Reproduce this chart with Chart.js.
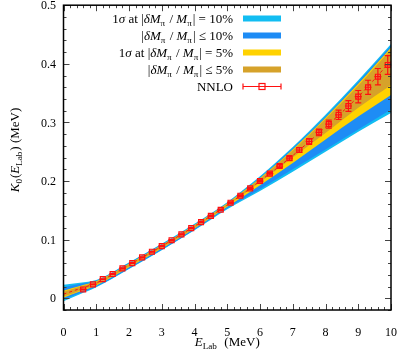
<!DOCTYPE html>
<html>
<head>
<meta charset="utf-8">
<script src="https://cdn.jsdelivr.net/npm/chart.js@4/dist/chart.umd.min.js"></script>
<style>
  html, body { margin: 0; padding: 0; background: #fff; }
  #wrap { width: 399px; height: 351px; }
</style>
</head>
<body>
<div id="wrap"><canvas id="chart" width="399" height="351"></canvas></div>
<script>
// band grid (MeV)
const bandE = [0, 0.5, 1, 2, 3, 4, 5, 6, 7, 8, 9, 10];
// central NNLO curve (dashed)
const central = [0.007, 0.0165, 0.026, 0.057, 0.089, 0.123, 0.159, 0.200, 0.2435, 0.292, 0.344, 0.405];
// 1 sigma at |dM/M| = 10%
const lightTop = [0.023, 0.0265, 0.031, 0.061, 0.093, 0.127, 0.164, 0.208, 0.258, 0.313, 0.372, 0.434];
const lightBot = [-0.005, 0.007, 0.019, 0.050, 0.082, 0.116, 0.152, 0.183, 0.216, 0.250, 0.284, 0.316];
// |dM/M| <= 10%
const blueTop = [0.019, 0.0245, 0.030, 0.060, 0.092, 0.126, 0.163, 0.206, 0.256, 0.310, 0.369, 0.431];
const blueBot = [-0.002, 0.009, 0.020, 0.051, 0.083, 0.117, 0.154, 0.186, 0.220, 0.254, 0.288, 0.322];
// 1 sigma at |dM/M| = 5%
const goldTop = [0.013, 0.021, 0.029, 0.059, 0.091, 0.125, 0.162, 0.205, 0.254, 0.308, 0.366, 0.428];
const goldBot = [0.001, 0.0115, 0.022, 0.053, 0.085, 0.119, 0.156, 0.193, 0.231, 0.271, 0.310, 0.347];
// |dM/M| <= 5%
const rodTop = [0.011, 0.0195, 0.028, 0.058, 0.090, 0.124, 0.161, 0.204, 0.252, 0.306, 0.363, 0.425];
const rodBot = [0.003, 0.013, 0.023, 0.054, 0.086, 0.120, 0.158, 0.198, 0.240, 0.282, 0.325, 0.364];

// NNLO points
const nnloE = [0.6, 0.9, 1.2, 1.5, 1.8, 2.1, 2.4, 2.7, 3.0, 3.3, 3.6, 3.9, 4.2, 4.5, 4.8, 5.1,
  5.4, 5.7, 6.0, 6.3, 6.6, 6.9, 7.2, 7.5, 7.8, 8.1, 8.4, 8.7, 9.0, 9.3, 9.6, 9.9];
const nnloK = [0.0150, 0.0236, 0.0327, 0.0414, 0.0510, 0.0600, 0.0697, 0.0794, 0.0890, 0.0990,
  0.1090, 0.1196, 0.1300, 0.1405, 0.1510, 0.1630, 0.1750, 0.1876, 0.2000, 0.2126, 0.2256,
  0.2390, 0.2530, 0.2675, 0.2830, 0.2970, 0.3130, 0.3280, 0.3440, 0.3600, 0.3780, 0.3980];
const nnloErr = [0.0005, 0.0005, 0.0006, 0.0006, 0.0007, 0.0007, 0.0008, 0.0008, 0.0009, 0.0009,
  0.001, 0.001, 0.0011, 0.0012, 0.0013, 0.0014, 0.0015, 0.0017, 0.002, 0.0023, 0.0027,
  0.0032, 0.004, 0.0048, 0.0057, 0.0068, 0.008, 0.0092, 0.0105, 0.012, 0.014, 0.016];

const xTicks = [0, 1, 2, 3, 4, 5, 6, 7, 8, 9, 10];
const yTicks = [0, 0.1, 0.2, 0.3, 0.4, 0.5];

const C_LIGHT = "#12bdf2";
const C_BLUE = "#1e8cf5";
const C_GOLD = "#ffd200";
const C_ROD = "#d6a22a";
const C_RED = "#ff1010";
const SERIF = "'Liberation Serif', 'DejaVu Serif', serif";

function pts(xs, ys) {
  return xs.map((x, i) => ({ x: x, y: ys[i] }));
}

function band(data, color, fill, order) {
  return {
    data: pts(bandE, data),
    borderWidth: 0,
    borderColor: color,
    backgroundColor: color,
    pointRadius: 0,
    fill: fill,
    cubicInterpolationMode: "monotone",
    order: order
  };
}

// text pieces: {t, it, sub}
function richWidth(ctx, parts, size) {
  let w = 0;
  parts.forEach(p => {
    let s = p.sub ? size * 0.7 : size;
    ctx.font = (p.it ? "italic " : "") + s + "px " + SERIF;
    w += ctx.measureText(p.t).width + (p.sub ? 1 : 0);
  });
  return w;
}

function drawRich(ctx, parts, x, y, size) {
  parts.forEach(p => {
    let s = p.sub ? size * 0.7 : size;
    ctx.font = (p.it ? "italic " : "") + s + "px " + SERIF;
    ctx.fillText(p.t, x, p.sub ? y + size * 0.25 : y);
    x += ctx.measureText(p.t).width + (p.sub ? 1 : 0);
  });
}

const legendRows = [
  { parts: [{ t: "1" }, { t: "σ", it: true }, { t: " at |" }, { t: "δM", it: true }, { t: "π", sub: true },
    { t: " / " }, { t: "M", it: true }, { t: "π", sub: true }, { t: "| = 10%" }], color: C_LIGHT },
  { parts: [{ t: "|" }, { t: "δM", it: true }, { t: "π", sub: true }, { t: " / " }, { t: "M", it: true },
    { t: "π", sub: true }, { t: "| ≤ 10%" }], color: C_BLUE },
  { parts: [{ t: "1" }, { t: "σ", it: true }, { t: " at |" }, { t: "δM", it: true }, { t: "π", sub: true },
    { t: " / " }, { t: "M", it: true }, { t: "π", sub: true }, { t: "| = 5%" }], color: C_GOLD },
  { parts: [{ t: "|" }, { t: "δM", it: true }, { t: "π", sub: true }, { t: " / " }, { t: "M", it: true },
    { t: "π", sub: true }, { t: "| ≤ 5%" }], color: C_ROD },
  { parts: [{ t: "NNLO" }], color: null }
];

const decor = {
  id: "decor",
  afterDatasetsDraw(chart) {
    const ctx = chart.ctx;
    const xs = chart.scales.x, ys = chart.scales.y;
    // error bars
    ctx.save();
    ctx.strokeStyle = C_RED;
    ctx.lineWidth = 1.2;
    nnloE.forEach((e, i) => {
      let px = xs.getPixelForValue(e);
      let top = ys.getPixelForValue(nnloK[i] + nnloErr[i]);
      let bot = ys.getPixelForValue(nnloK[i] - nnloErr[i]);
      let py = ys.getPixelForValue(nnloK[i]);
      ctx.beginPath();
      ctx.moveTo(px, top); ctx.lineTo(px, bot);
      ctx.moveTo(px - 3, top); ctx.lineTo(px + 3, top);
      ctx.moveTo(px - 3, bot); ctx.lineTo(px + 3, bot);
      ctx.moveTo(px - 3.5, py); ctx.lineTo(px + 3.5, py);
      ctx.stroke();
    });
    ctx.restore();
  },
  afterDraw(chart) {
    const ctx = chart.ctx;
    const a = chart.chartArea;
    const xs = chart.scales.x, ys = chart.scales.y;
    ctx.save();
    // ticks, inward on all sides
    ctx.strokeStyle = "#444";
    ctx.lineWidth = 1;
    ctx.beginPath();
    for (let k = 0; k <= 50; k++) {
      let v = k * 0.2;
      let px = Math.round(xs.getPixelForValue(v)) + 0.5;
      let len = (k % 5 === 0) ? 6 : 3;
      ctx.moveTo(px, a.bottom); ctx.lineTo(px, a.bottom - len);
      ctx.moveTo(px, a.top); ctx.lineTo(px, a.top + len);
    }
    for (let k = -1; k <= 25; k++) {
      let v = k * 0.02;
      let py = Math.round(ys.getPixelForValue(v)) + 0.5;
      let len = (k % 5 === 0) ? 6 : 3;
      ctx.moveTo(a.left, py); ctx.lineTo(a.left + len, py);
      ctx.moveTo(a.right, py); ctx.lineTo(a.right - len, py);
    }
    ctx.stroke();
    // frame
    ctx.strokeStyle = "#000";
    ctx.lineWidth = 1.5;
    ctx.strokeRect(a.left, a.top, a.right - a.left, a.bottom - a.top);

    // tick labels
    ctx.fillStyle = "#000";
    ctx.font = "12px " + SERIF;
    ctx.textBaseline = "middle";
    ctx.textAlign = "center";
    xTicks.forEach(v => ctx.fillText(String(v), xs.getPixelForValue(v), 333));
    ctx.textAlign = "right";
    yTicks.forEach(v => ctx.fillText(String(v), 56, ys.getPixelForValue(v) + 1));
    ctx.textAlign = "left";

    // axis titles
    ctx.textBaseline = "alphabetic";
    const xt = [{ t: "E", it: true }, { t: "Lab", sub: true }, { t: "  (MeV)" }];
    let w = richWidth(ctx, xt, 13);
    drawRich(ctx, xt, (a.left + a.right) / 2 - w / 2, 346, 13);

    const yt = [{ t: "K", it: true }, { t: "0", sub: true }, { t: "(" }, { t: "E", it: true },
      { t: "Lab", sub: true }, { t: ") (MeV)" }];
    ctx.save();
    ctx.translate(19, 150);
    ctx.rotate(-Math.PI / 2);
    w = richWidth(ctx, yt, 13);
    drawRich(ctx, yt, -w / 2, 0, 13);
    ctx.restore();

    // legend
    const rowY = [18.5, 35.5, 52.5, 69.5, 86.5];
    const textRight = 233, sx0 = 243, sx1 = 281;
    legendRows.forEach((r, i) => {
      let y = rowY[i];
      let tw = richWidth(ctx, r.parts, 13);
      ctx.fillStyle = "#000";
      drawRich(ctx, r.parts, textRight - tw, y + 4.5, 13);
      if (r.color) {
        ctx.fillStyle = r.color;
        ctx.fillRect(sx0, y - 3, sx1 - sx0, 6);
      } else {
        ctx.strokeStyle = C_RED;
        ctx.lineWidth = 1.2;
        ctx.beginPath();
        ctx.moveTo(sx0, y); ctx.lineTo(sx1, y);
        ctx.moveTo(sx0, y - 3); ctx.lineTo(sx0, y + 3);
        ctx.moveTo(sx1, y - 3); ctx.lineTo(sx1, y + 3);
        ctx.stroke();
        ctx.strokeRect((sx0 + sx1) / 2 - 3, y - 3, 6, 6);
      }
    });
    ctx.restore();
  }
};

new Chart(document.getElementById("chart"), {
  type: "line",
  data: {
    datasets: [
      {
        data: pts(nnloE, nnloK),
        showLine: false,
        pointStyle: "rect",
        pointRadius: 3.5,
        pointBorderWidth: 1.2,
        borderColor: C_RED,
        backgroundColor: "rgba(255,120,120,0.35)",
        order: 0
      },
      {
        data: pts(bandE, central),
        borderColor: C_RED,
        borderWidth: 1,
        borderDash: [3, 3],
        pointRadius: 0,
        fill: false,
        cubicInterpolationMode: "monotone",
        order: 1
      },
      band(rodTop, C_ROD, "+1", 2),
      band(rodBot, C_ROD, false, 2),
      band(goldTop, C_GOLD, "+1", 3),
      band(goldBot, C_GOLD, false, 3),
      band(blueTop, C_BLUE, "+1", 4),
      band(blueBot, C_BLUE, false, 4),
      band(lightTop, C_LIGHT, "+1", 5),
      band(lightBot, C_LIGHT, false, 5)
    ]
  },
  options: {
    responsive: false,
    devicePixelRatio: 1,
    animation: false,
    layout: { padding: { left: 0, right: 8, top: 5, bottom: 0 } },
    plugins: {
      legend: { display: false },
      tooltip: { enabled: false },
      filler: { propagate: false }
    },
    scales: {
      x: {
        type: "linear",
        min: 0,
        max: 10,
        grid: { display: false, drawTicks: false },
        border: { display: false },
        afterBuildTicks: s => { s.ticks = xTicks.map(v => ({ value: v })); },
        afterFit: s => { s.height = 41; },
        ticks: { display: false }
      },
      y: {
        type: "linear",
        min: -0.02,
        max: 0.5,
        grid: { display: false, drawTicks: false },
        border: { display: false },
        afterBuildTicks: s => { s.ticks = yTicks.map(v => ({ value: v })); },
        afterFit: s => { s.width = 63.5; },
        ticks: { display: false }
      }
    }
  },
  plugins: [decor]
});
</script>
</body>
</html>
